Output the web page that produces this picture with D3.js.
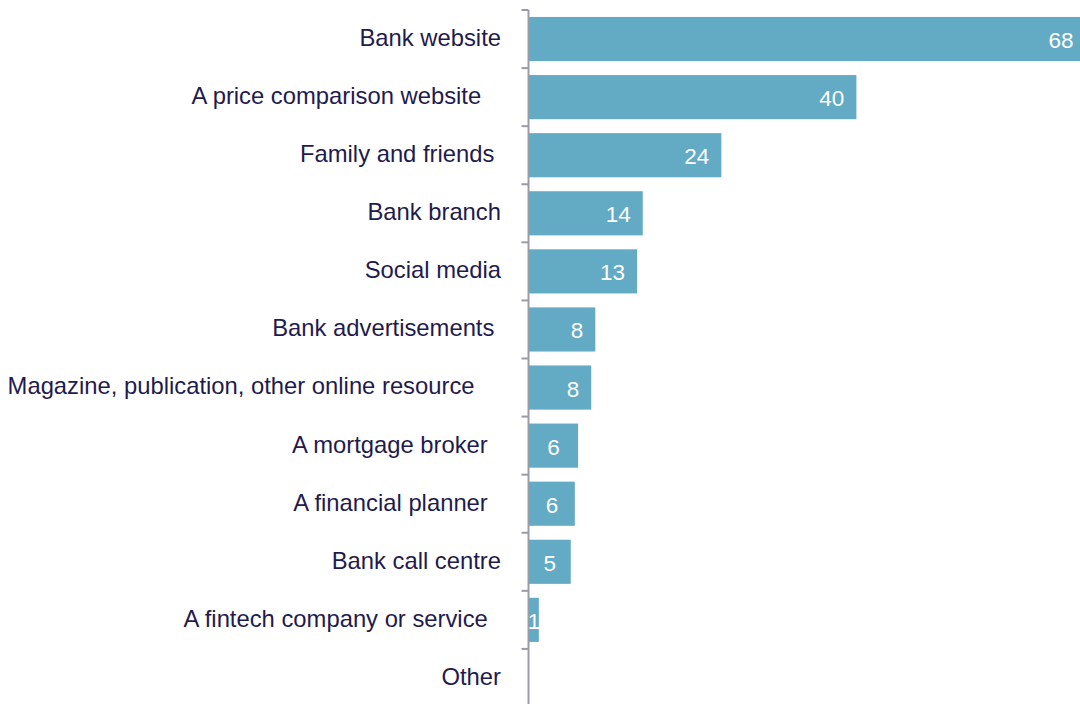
<!DOCTYPE html>
<html>
<head>
<meta charset="utf-8">
<script src="https://cdn.jsdelivr.net/npm/d3@7/dist/d3.min.js"></script>
<style>
  html, body { margin: 0; padding: 0; background: #ffffff; }
  svg { display: block; }
  .cat { white-space: pre; }
</style>
</head>
<body>
<svg id="chart" width="1080" height="704"></svg>
<script>
// Where people look for information (%), one bar per source
const categories = [
  "Bank website",
  "A price comparison website   ",
  "Family and friends ",
  "Bank branch",
  "Social media",
  "Bank advertisements ",
  "Magazine, publication, other online resource    ",
  "A mortgage broker  ",
  "A financial planner  ",
  "Bank call centre",
  "A fintech company or service  ",
  "Other"
];
const values = [68, 40, 23.5, 13.9, 13.2, 8.1, 7.6, 6.0, 5.6, 5.1, 1.2, 0];

const W = 1080, H = 704;
const axisX = 528.5;
const barColor = "#63aac4";
const textColor = "#1f1b4d";
const axisColor = "#9b9ba5";

const svg = d3.select("#chart");

const y = d3.scaleBand()
  .domain(categories)
  .range([10, 707])
  .paddingInner(0.24)
  .paddingOuter(0.12);

const x = d3.scaleLinear()
  .domain([0, 70])
  .range([529, 529 + 70 * 8.185]);

const data = categories.map((c, i) => ({ cat: c, v: values[i] }));

// Bars
svg.append("g")
  .selectAll("rect")
  .data(data)
  .join("rect")
  .attr("x", x(0))
  .attr("y", d => y(d.cat))
  .attr("width", d => x(d.v) - x(0))
  .attr("height", y.bandwidth())
  .attr("fill", barColor);

// Vertical category axis with ticks at band boundaries
const gap = y.step() * y.paddingInner() / 2;
const axis = svg.append("g");
axis.append("line")
  .attr("x1", axisX).attr("x2", axisX)
  .attr("y1", y(categories[0]) - gap)
  .attr("y2", H + 5)
  .attr("stroke", axisColor)
  .attr("stroke-width", 2);
const tickYs = categories.map(c => y(c) - gap);
tickYs.push(y(categories[categories.length - 1]) + y.bandwidth() + gap);
axis.selectAll("line.tick")
  .data(tickYs)
  .join("line")
  .attr("class", "tick")
  .attr("x1", axisX - 7).attr("x2", axisX)
  .attr("y1", d => d).attr("y2", d => d)
  .attr("stroke", axisColor)
  .attr("stroke-width", 2);

// Category labels
svg.append("g")
  .selectAll("text")
  .data(data)
  .join("text")
  .attr("class", "cat")
  .attr("x", axisX - 27.5)
  .attr("y", d => y(d.cat) + y.bandwidth() / 2)
  .attr("dy", "0.29em")
  .attr("text-anchor", "end")
  .attr("font-family", "'Liberation Sans', Arial, sans-serif")
  .attr("font-size", "23.8px")
  .attr("fill", textColor)
  .text(d => d.cat);

// Value labels inside the bars
const fmt = d3.format(".0f");
svg.append("g")
  .selectAll("text")
  .data(data.filter(d => d.v > 0))
  .join("text")
  .attr("x", d => {
    const w = x(d.v) - x(0);
    return w < 55 ? x(0) + w / 2 : x(d.v) - 12;
  })
  .attr("text-anchor", d => (x(d.v) - x(0) < 55 ? "middle" : "end"))
  .attr("y", d => y(d.cat) + y.bandwidth() / 2)
  .attr("dy", "0.4em")
  .attr("font-family", "'Liberation Sans', Arial, sans-serif")
  .attr("font-size", "22.5px")
  .attr("fill", "#ffffff")
  .text(d => fmt(d.v));
</script>
</body>
</html>
